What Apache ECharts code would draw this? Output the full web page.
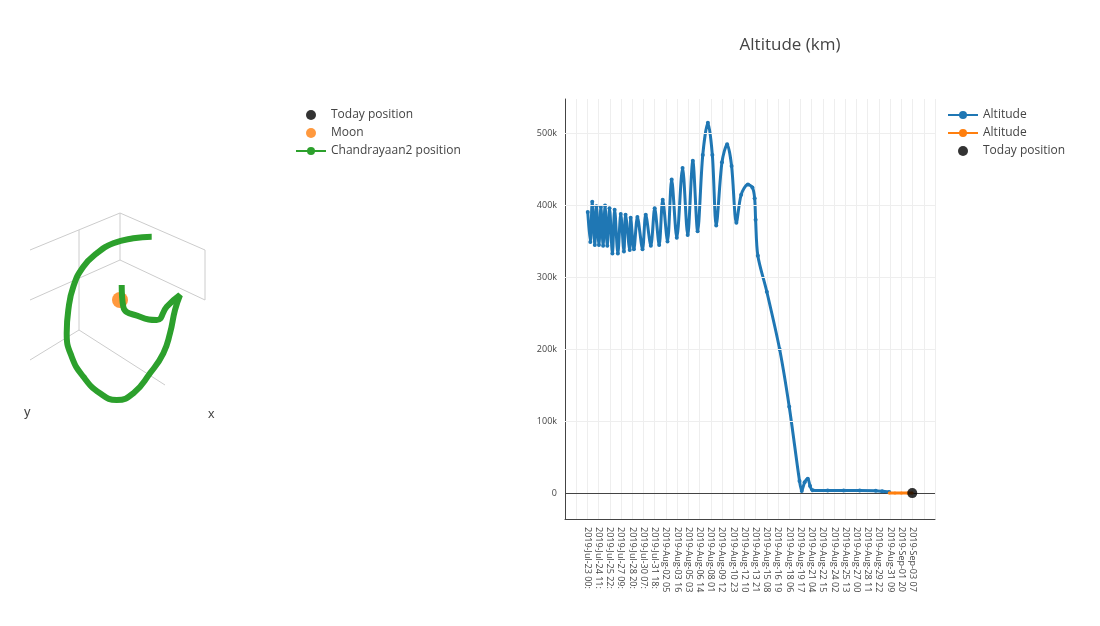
<!DOCTYPE html>
<html>
<head>
<meta charset="utf-8">
<script src="https://cdn.jsdelivr.net/npm/echarts@6/dist/echarts.min.js"></script>
<style>html,body{margin:0;padding:0;background:#fff}#main{width:1100px;height:626px}</style>
</head>
<body>
<div id="main"></div>
<script>
// tick labels, one every 35 hours from 2019-Jul-23 00h
var tickLabels = ['2019-Jul-23 00:', '2019-Jul-24 11:', '2019-Jul-25 22:', '2019-Jul-27 09:', '2019-Jul-28 20:',
  '2019-Jul-30 07:', '2019-Jul-31 18:', '2019-Aug-02 05', '2019-Aug-03 16', '2019-Aug-05 03', '2019-Aug-06 14',
  '2019-Aug-08 01', '2019-Aug-09 12', '2019-Aug-10 23', '2019-Aug-12 10', '2019-Aug-13 21', '2019-Aug-15 08',
  '2019-Aug-16 19', '2019-Aug-18 06', '2019-Aug-19 17', '2019-Aug-21 04', '2019-Aug-22 15', '2019-Aug-24 02',
  '2019-Aug-25 13', '2019-Aug-27 00', '2019-Aug-28 11', '2019-Aug-29 22', '2019-Aug-31 09', '2019-Sep-01 20',
  '2019-Sep-03 07'];
var yGridValues = [100000, 200000, 300000, 400000, 500000];

// altitude [hours since Jul 23 00h, km]
var altitudeBlue = [
  [1, 391000], [9, 349000], [15, 405000], [23, 345000], [28, 399000], [36, 345000], [42, 398000], [49, 344000],
  [55, 400000], [62, 344000], [69, 396000], [78, 333000], [85, 394000], [95, 333000], [104, 388000], [114, 336000],
  [119, 387000], [132, 338000], [135, 383000], [145, 339000], [156, 384000], [172, 339000], [182, 387000],
  [198, 344000], [210, 396000], [224, 345000], [235, 408000], [250, 350000], [263, 436000], [279, 355000],
  [297, 452000], [313, 359000], [329, 462000], [344, 364000], [360, 470000], [376, 515000], [390, 470000],
  [402, 372000], [420, 460000], [436, 485000], [450, 455000], [465, 376000], [480, 415000], [501, 429000],
  [515, 425000], [522, 410000], [525, 380000], [532, 330000], [560, 280000], [600, 200000], [630, 120000],
  [662, 17000], [669, 3000], [678, 15000], [688, 20000], [695, 10000], [703, 4000], [750, 3500], [800, 3500],
  [850, 3500], [900, 3200], [920, 2500], [942, 1500]];
var altitudeOrange = [[942, 0], [960, 0], [980, 0], [1000, 0], [1014, 0]];
var todayPosition = [[1014, 0]];

// left panel: projected trajectory (view coordinates of the 3-D scene)
var trajectory = [[151.7, 236.7], [133.3, 238.3], [113.3, 243.3], [96.7, 253.3], [83.3, 266.7], [73.3, 286.7],
  [68.3, 310], [66.7, 333.3], [71.7, 356.7], [83.3, 376.7], [100, 393.3], [116.7, 400], [133.3, 393.3],
  [150, 373.3], [163.3, 353.3], [170, 333.3], [175, 310], [180, 295], [166.7, 306.7], [156.7, 320],
  [140, 316.7], [123.3, 306.7], [121.7, 285]];
var moon = [[120, 300]];
var boxEdges = [
  [[120, 213], [205, 250]], [[120, 213], [30, 250]], [[120, 213], [120, 260]],
  [[79, 230], [79, 330]], [[205, 250], [205, 300]], [[120, 260], [205, 300]], [[120, 260], [30, 300]],
  [[79, 330], [165, 385]], [[79, 330], [30, 360]]];

var chart = echarts.init(document.getElementById('main'));
var series = [];
boxEdges.forEach(function (e) {
  series.push({ type: 'line', xAxisIndex: 1, yAxisIndex: 1, data: e, symbol: 'none', silent: true,
    lineStyle: { color: '#ccc', width: 1 } });
});
series.push(
  { name: 'Chandrayaan2 position', type: 'line', xAxisIndex: 1, yAxisIndex: 1, data: trajectory, smooth: 0.5,
    symbol: 'none', lineStyle: { color: '#2ca02c', width: 6 }, itemStyle: { color: '#2ca02c' } },
  { name: 'Moon', type: 'scatter', xAxisIndex: 1, yAxisIndex: 1, data: moon, symbolSize: 16,
    itemStyle: { color: '#ff7f0e' } },
  { name: 'Today position', type: 'scatter', xAxisIndex: 1, yAxisIndex: 1, data: [], symbolSize: 7,
    itemStyle: { color: '#000' } },
  { name: 'Altitude', type: 'line', data: altitudeBlue, smooth: 0.3, symbol: 'circle', symbolSize: 4,
    lineStyle: { color: '#1f77b4', width: 3 }, itemStyle: { color: '#1f77b4' },
    markLine: { silent: true, symbol: 'none', label: { show: false },
      lineStyle: { color: '#eee', type: 'solid', width: 1 },
      data: yGridValues.map(function (v) { return { yAxis: v }; }) } },
  { name: 'Altitude ', type: 'line', data: altitudeOrange, symbol: 'circle', symbolSize: 3, z: 4,
    lineStyle: { color: '#ff7f0e', width: 3 }, itemStyle: { color: '#ff7f0e' },
    markLine: { silent: true, symbol: 'none', label: { show: false }, z: 1,
      lineStyle: { color: '#444', type: 'solid', width: 1 }, data: [{ yAxis: 0 }] } },
  { name: 'Today position ', type: 'scatter', data: todayPosition, symbolSize: 10, z: 5,
    itemStyle: { color: '#000' } }
);

chart.setOption({
  animation: false,
  textStyle: { fontFamily: 'Open Sans, sans-serif' },
  title: { text: 'Altitude (km)', left: 785, top: 32, textAlign: 'center',
    textStyle: { fontSize: 17, fontWeight: 'normal', color: '#444' } },
  legend: [
    { left: 290, top: 104, orient: 'vertical', itemGap: 6, itemWidth: 30, itemHeight: 10,
      textStyle: { fontSize: 12, color: '#444' },
      data: [{ name: 'Today position', icon: 'circle' }, { name: 'Moon', icon: 'circle' }, 'Chandrayaan2 position'] },
    { left: 942, top: 104, orient: 'vertical', itemGap: 6, itemWidth: 30, itemHeight: 10,
      textStyle: { fontSize: 12, color: '#444' },
      formatter: function (n) { return n.trim(); },
      data: ['Altitude', 'Altitude ', { name: 'Today position ', icon: 'circle' }] }
  ],
  grid: [
    { left: 565, top: 99, width: 370, height: 420 },
    { left: 0, top: 200, width: 250, height: 230 }
  ],
  xAxis: [
    { type: 'value', min: -70, max: 1085, interval: 35,
      axisLine: { onZero: false, lineStyle: { color: '#444' } }, axisTick: { show: false },
      splitLine: { lineStyle: { color: '#eee' } },
      axisLabel: { rotate: -90, fontSize: 9, color: '#444',
        formatter: function (v) { var i = Math.round(v / 35); return (v >= 0 && i < tickLabels.length) ? tickLabels[i] : ''; } } },
    { gridIndex: 1, type: 'value', min: 0, max: 250, show: false }
  ],
  yAxis: [
    { type: 'value', min: -36000, max: 548000, interval: 4000,
      axisLine: { show: true, onZero: false, lineStyle: { color: '#444' } }, axisTick: { show: false },
      splitLine: { show: false },
      axisLabel: { fontSize: 9, color: '#444',
        formatter: function (v) { v = Math.round(v); if (v < 0 || v % 100000 !== 0) return ''; return v === 0 ? '0' : (v / 1000) + 'k'; } } },
    { gridIndex: 1, type: 'value', min: 200, max: 430, inverse: true, show: false }
  ],
  graphic: [
    { type: 'text', left: 208, top: 408, style: { text: 'x', fontSize: 13, fill: '#444' } },
    { type: 'text', left: 24, top: 406, style: { text: 'y', fontSize: 13, fill: '#444' } }
  ],
  series: series
});
</script>
</body>
</html>
